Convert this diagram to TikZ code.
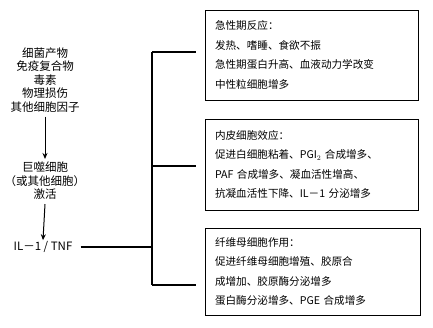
\documentclass[tikz,border=0pt]{standalone}
\usepackage{fontspec}
\newfontfamily\cjk{Noto Sans CJK SC}
\usepackage{tikz}
\usetikzlibrary{arrows.meta,positioning}

\begin{document}
\begin{tikzpicture}[
    x=1pt, y=-1pt,
    effbox/.style={draw, line width=0.8pt, inner xsep=10pt, align=left,
                   text width=193pt, font=\cjk\fontsize{10.6}{19.5}\selectfont},
    src/.style={align=center, inner sep=0pt, font=\cjk\fontsize{11.5}{13.5}\selectfont},
    arr/.style={-{Stealth[length=6pt,width=5pt]}, line width=1pt},
    brk/.style={line width=1.2pt}
  ]
    \useasboundingbox (0,0) rectangle (433,327);
    % left column
    \node[src] (cause) at (45,80) {细菌产物\\免疫复合物\\毒素\\物理损伤\\其他细胞因子};
    \node[src] (mac) at (45,181) {巨噬细胞\\（或其他细胞）\\激活};
    \node[src] (il) at (43,247) {IL－1 / TNF};
    \draw[arr] ([yshift=-4pt]cause.south) -- ([yshift=3pt]mac.north);
    \draw[arr] ([yshift=-4pt]mac.south) -- ([yshift=1pt]il.north);
    % effect boxes
    \node[effbox, minimum height=90pt] (acute) at (311.5,55)
      {急性期反应：\\发热、嗜睡、食欲不振\\急性期蛋白升高、血液动力学改变\\中性粒细胞增多};
    \node[effbox, minimum height=91pt] (endo) at (311.5,164.5)
      {内皮细胞效应：\\促进白细胞粘着、PGI$_2$ 合成增多、\\PAF 合成增多、凝血活性增高、\\抗凝血活性下降、IL－1 分泌增多};
    \node[effbox, text width=195pt, minimum height=87pt] (fibro) at (312.5,271.5)
      {纤维母细胞作用：\\促进纤维母细胞增殖、胶原合\\成增加、胶原酶分泌增多\\蛋白酶分泌增多、PGE 合成增多};
    % bracket
    \coordinate (jn) at (152,247);
    \coordinate (bt) at (152,52);
    \coordinate (bm) at (152,166);
    \coordinate (bb) at (152,285);
    \draw[brk] (il.east) ++(8,0) -- (jn);
    \draw[brk] (bt) -- (bb);
    \draw[brk] (bt) -- ++(44,0);
    \draw[brk] (bm) -- ++(44,0);
    \draw[brk] (bb) -- ++(44,0);
  \end{tikzpicture}
\end{document}
